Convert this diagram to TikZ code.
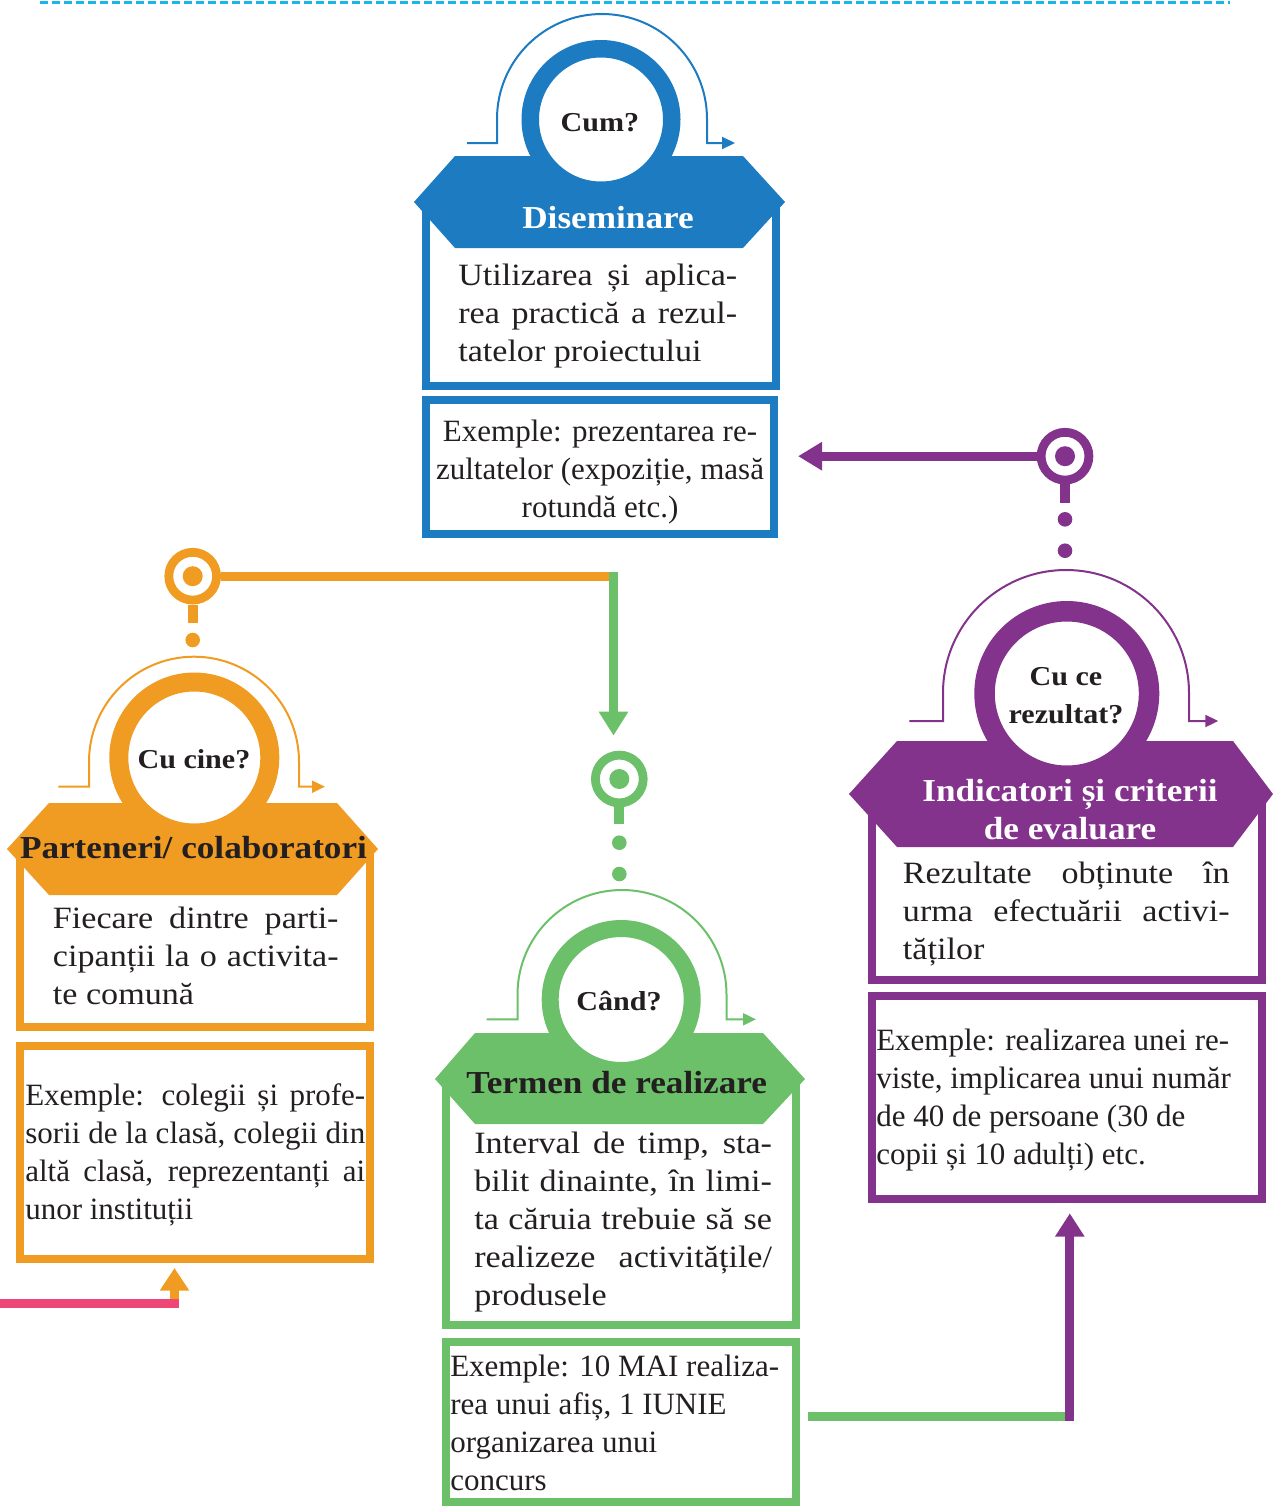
\documentclass[tikz,border=0pt]{standalone}
\usepackage{fontspec}
\setmainfont{Liberation Serif}
\newfontfamily\dscfamily[FakeStretch=1.1]{Liberation Serif}
\usetikzlibrary{arrows.meta}
\definecolor{cblue}{HTML}{1C7BC1}
\definecolor{corange}{HTML}{F09C22}
\definecolor{cgreen}{HTML}{6CC06A}
\definecolor{cpurple}{HTML}{84338C}
\definecolor{cpink}{HTML}{EE4677}
\definecolor{ccyan}{HTML}{1AB6EA}
\definecolor{ink}{HTML}{231F20}
\newcommand\dscfont{\dscfamily\fontsize{23.25pt}{28.5pt}\selectfont}
\newcommand\exmfont{\fontsize{23.25pt}{28.5pt}\selectfont}
\newcommand\hdfont{\dscfamily\bfseries\fontsize{24pt}{28pt}\selectfont}
\newcommand\qfont{\dscfamily\bfseries\fontsize{20.5pt}{28.5pt}\selectfont}
\newcommand\jline[1]{\makebox[\linewidth][s]{#1}}
\tikzset{
  framebox/.style={draw=#1, line width=6pt, inner sep=0pt},
  pinring/.style={circle, draw=#1, line width=6.6pt, fill=white, minimum size=35.85pt, inner sep=0pt},
  qring/.style={circle, draw=#1, fill=white, inner sep=0pt},
  thinloop/.style={draw=#1, line width=1.5pt, -{Triangle[length=9.75pt,width=9pt]}},
  txt/.style={inner sep=0pt, text=ink},
}
\begin{document}
\begin{tikzpicture}[x=0.75pt,y=-0.75pt]
\useasboundingbox (0,0) rectangle (1273,1506);

% dashed top rule
\coordinate (dl) at (40,2.5);
\coordinate (dr) at (1230,2.5);
\draw[ccyan, line width=2.25pt, dash pattern=on 6pt off 3pt] (dl) -- (dr);

% ---------------- boxes ----------------
\node[framebox=cblue, minimum width=262.5pt, minimum height=138pt] (bdb) at (601,294) {};
\node[framebox=cblue, minimum width=261.45pt, minimum height=100.725pt] (bex) at (600,467.15) {};
\node[framebox=corange, minimum width=262.725pt, minimum height=133.5pt] (odb) at (195.15,938) {};
\node[framebox=corange, minimum width=262.725pt, minimum height=160.2pt] (oex) at (195.15,1152.5) {};
\node[framebox=cgreen, minimum width=262.725pt, minimum height=184.725pt] (gdb) at (620.85,1202.15) {};
\node[framebox=cgreen, minimum width=262.725pt, minimum height=119.775pt] (gex) at (620.85,1422.15) {};
\node[framebox=cpurple, minimum width=292.05pt, minimum height=139.725pt] (pdb) at (1067,887.15) {};
\node[framebox=cpurple, minimum width=292.05pt, minimum height=152.25pt] (pex) at (1067,1097.2) {};

% ---------------- hexagon banners ----------------
\fill[cblue] (455,156) -- (743,156) -- (785,202) -- (743,248) -- (455,248) -- (414,202) -- cycle;
\fill[corange] (49,803) -- (337,803) -- (378,849) -- (337,895) -- (49,895) -- (7,849) -- cycle;
\fill[cgreen] (475,1033) -- (763,1033) -- (805,1079) -- (763,1124) -- (475,1124) -- (435,1079) -- cycle;
\fill[cpurple] (897,741) -- (1233,741) -- (1273,794) -- (1233,847) -- (897,847) -- (849,794) -- cycle;

% ---------------- thin loops ----------------
\draw[thinloop=cblue] (467,143) -- (497,143) -- (497,119) arc[start angle=180, end angle=360, radius=105] -- (707,143) -- (735,143);
\draw[thinloop=corange] (58.3,786.7) -- (89,786.7) -- (89,761.7) arc[start angle=180, end angle=360, radius=105] -- (299,786.7) -- (325,786.7);
\draw[thinloop=cgreen] (486.7,1019.3) -- (517.5,1019.3) -- (517.5,994.5) arc[start angle=180, end angle=360, radius=104.5] -- (726.5,1019.3) -- (756,1019.3);
\draw[thinloop=cpurple] (909.3,721) -- (943,721) -- (943,693) arc[start angle=180, end angle=360, radius=123] -- (1189,721) -- (1218.3,721);

% ---------------- question rings ----------------
\node[qring=cblue, line width=13.125pt, minimum size=106.125pt] (bring) at (601,119.5) {};
\node[qring=corange, line width=14.25pt, minimum size=113.25pt] (oring) at (194.3,757.5) {};
\node[qring=cgreen, line width=12.75pt, minimum size=106.5pt] (gring) at (621.2,999.5) {};
\node[qring=cpurple, line width=15.375pt, minimum size=123.375pt] (pring) at (1066.8,693.5) {};

% ---------------- texts: blue ----------------
\node[txt, anchor=base] (bq) at (600,131.7) {\qfont Cum?};
\node[txt, text=white, anchor=base] (bh) at (608,228) {\hdfont Diseminare};
\node[txt, anchor=base west] (bd) at (458,285) {\parbox[t]{209.25pt}{\dscfont\jline{Utilizarea și aplica-}\\\jline{rea practică a rezul-}\\tatelor proiectului}};
\node[txt, anchor=base] (bx) at (600,441.7) {\parbox[t]{270pt}{\centering\exmfont Exemple: prezentarea re-\\zultatelor (expoziție, masă\\rotundă etc.)}};

% ---------------- texts: orange ----------------
\node[txt, anchor=base] (oq) at (194,768.3) {\qfont Cu cine?};
\node[txt, anchor=base] (oh) at (193.5,858.3) {\hdfont Parteneri/ colaboratori};
\node[txt, anchor=base west] (od) at (52.7,928.3) {\parbox[t]{214.2pt}{\dscfont\jline{Fiecare dintre parti-}\\\jline{cipanții la o activita-}\\te comună}};
\node[txt, anchor=base west] (ox) at (25,1105) {\parbox[t]{255pt}{\exmfont\jline{Exemple: colegii și profe-}\\\jline{sorii de la clasă, colegii din}\\\jline{altă clasă, reprezentanți ai}\\unor instituții}};

% ---------------- texts: green ----------------
\node[txt, anchor=base] (gq) at (619,1010) {\qfont Când?};
\node[txt, anchor=base] (gh) at (616.7,1093.3) {\hdfont Termen de realizare};
\node[txt, anchor=base west] (gd) at (474,1153.3) {\parbox[t]{223.3pt}{\dscfont\jline{Interval de timp, sta-}\\\jline{bilit dinainte, în limi-}\\\jline{ta căruia trebuie să se}\\\jline{realizeze activitățile/}\\produsele}};
\node[txt, anchor=base west] (gx) at (450,1376.7) {\parbox[t]{255pt}{\raggedright\exmfont Exemple: 10 MAI realiza-\\rea unui afiș, 1 IUNIE\\organizarea unui\\concurs}};

% ---------------- texts: purple ----------------
\node[txt, anchor=base] (pq) at (1066,685) {\parbox[t]{150pt}{\centering\qfont Cu ce\\rezultat?}};
\node[txt, text=white, anchor=base] (ph) at (1070,801.7) {\parbox[t]{285pt}{\centering\hdfont Indicatori și criterii\\de evaluare}};
\node[txt, anchor=base west] (pd) at (902.7,883.3) {\parbox[t]{244.95pt}{\dscfont\jline{Rezultate obținute în}\\\jline{urma efectuării activi-}\\tăților}};
\node[txt, anchor=base west] (px) at (876,1050) {\parbox[t]{285pt}{\raggedright\exmfont Exemple: realizarea unei re-\\viste, implicarea unui număr\\de 40 de persoane (30 de\\copii și 10 adulți) etc.}};

% ---------------- pins ----------------
\node[pinring=corange] (opin) at (192.7,576.2) {};
\fill[corange] (opin.center) circle[radius=10];
\fill[corange] (187.7,604.5) rectangle (197.7,623.3);
\fill[corange] (192.7,640) circle[radius=7.3];

\node[pinring=cgreen] (gpin) at (619.3,779) {};
\fill[cgreen] (gpin.center) circle[radius=10];
\fill[cgreen] (614.3,807) rectangle (624.3,824);
\fill[cgreen] (619.3,842.7) circle[radius=7.3];
\fill[cgreen] (619.3,874) circle[radius=7.3];

\node[pinring=cpurple] (ppin) at (1065,456.2) {};
\fill[cpurple] (ppin.center) circle[radius=10];
\fill[cpurple] (1060,484.3) rectangle (1070,502.7);
\fill[cpurple] (1065,519.3) circle[radius=7.3];
\fill[cpurple] (1065,550.7) circle[radius=7.3];

% ---------------- connectors ----------------
\draw[cpurple, line width=6.75pt, -{Triangle[length=18pt,width=20.25pt]}, shorten >=14.8pt] (ppin.west) -- (ppin.west -| bex.east);

\coordinate (ocorner) at (613.5,576.2);
\draw[corange, line width=6.75pt] (opin.east) -- (ocorner);
\coordinate (gtop) at (613.5,571.7);
\draw[cgreen, line width=6.3pt, -{Triangle[length=18pt,width=21pt]}, shorten >=11.3pt] (gtop) -- (gtop |- gpin.north);

\coordinate (pinkstart) at (0,1303.3);
\coordinate (pinkend) at (179,1303.3);
\coordinate (oup) at (174.5,1303.3);
\draw[corange, line width=6.75pt, -{Triangle[length=17pt,width=21pt]}, shorten >=3.5pt] (oup) -- (oup |- oex.south);
\draw[cpink, line width=6.5pt] (pinkstart) -- (pinkend);

\coordinate (gpturn) at (1069.8,1416.2);
\draw[cgreen, line width=6.75pt, shorten <=6pt] (gex.east |- gpturn) -- (gpturn);
\coordinate (pbot) at (1069.8,1420.7);
\draw[cpurple, line width=6.75pt, -{Triangle[length=17.5pt,width=21pt]}, shorten >=7.95pt] (pbot) -- (pbot |- pex.south);
\end{tikzpicture}
\end{document}
